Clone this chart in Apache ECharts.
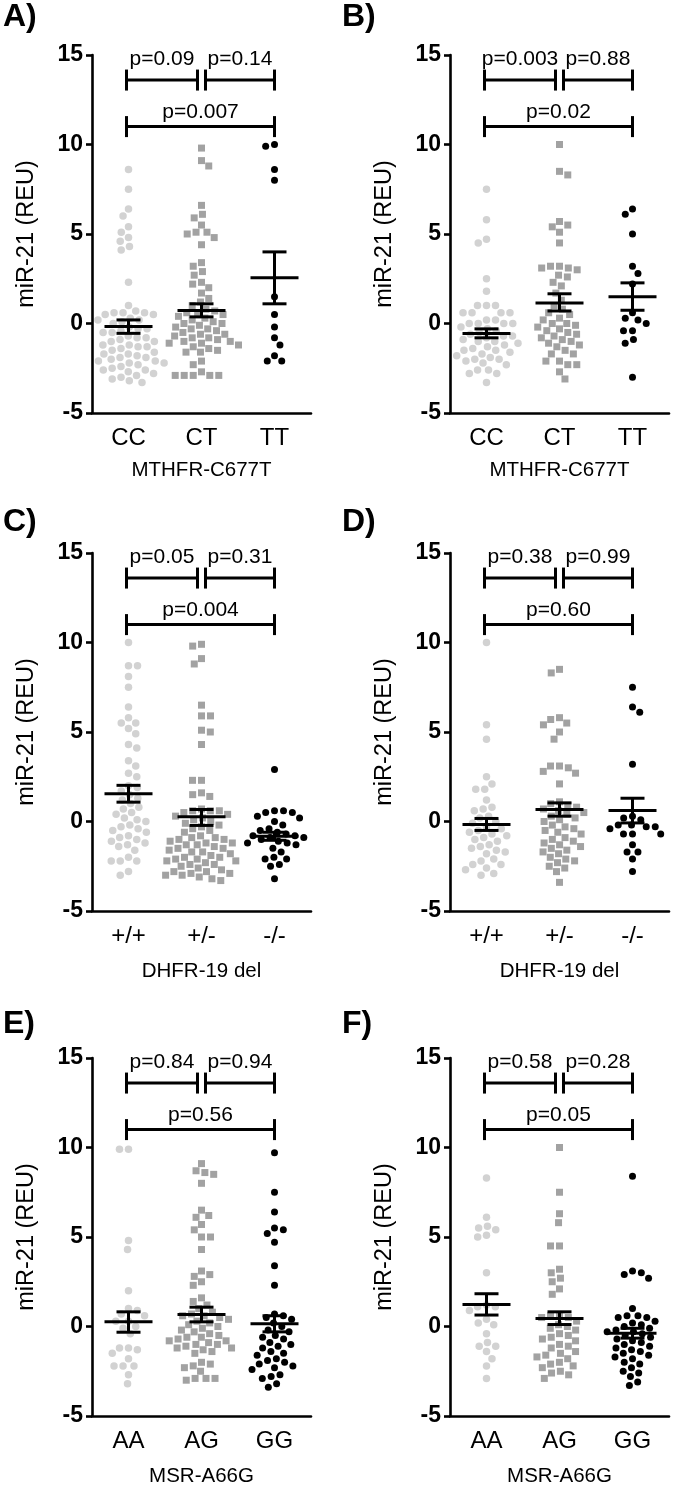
<!DOCTYPE html>
<html><head><meta charset="utf-8">
<script src="https://cdn.jsdelivr.net/npm/echarts@6/dist/echarts.min.js"></script>
<style>html,body{margin:0;padding:0;background:#fff}#c{width:674px;height:1488px}</style>
</head><body><div id="c"></div>
<script>
// ---------------- data ----------------
const yTitle = 'miR-21 (REU)';
const yMin = -5, yMax = 15, yStep = 5;
const panelLetters = ['A)', 'B)', 'C)', 'D)', 'E)', 'F)'];
const xTitles = ['MTHFR-C677T', 'MTHFR-C677T', 'DHFR-19 del', 'DHFR-19 del', 'MSR-A66G', 'MSR-A66G'];
const catsMTHFR = ['CC', 'CT', 'TT'];
const catsDHFR = ['+/+', '+/-', '-/-'];
const catsMSR = ['AA', 'AG', 'GG'];

// Panel A
const A_g1 = [8.6, 7.5, 6.4, 6.0, 5.4, 5.1, 4.8, 4.6, 4.3, 4.1, 2.3, 1.0, 0.7, 0.6, 0.6, 0.6, 0.5, 0.5, 0.3, 0.2, 0.2, 0.1, 0.0, -0.2, -0.3, -0.3, -0.4, -0.5, -0.5, -0.7, -0.8, -0.8, -0.9, -1.0, -1.0, -1.2, -1.2, -1.3, -1.3, -1.4, -1.5, -1.6, -1.7, -1.7, -1.8, -1.9, -1.9, -2.0, -2.1, -2.1, -2.2, -2.2, -2.3, -2.4, -2.5, -2.6, -2.6, -2.7, -2.8, -2.9, -3.0, -3.1, -3.2, -3.3];
const A_g2 = [9.8, 9.1, 8.8, 6.6, 6.1, 5.9, 5.5, 5.1, 5.1, 5.0, 4.8, 4.4, 3.4, 3.2, 2.9, 2.7, 2.3, 2.2, 2.0, 1.7, 1.4, 1.2, 1.0, 0.8, 0.7, 0.6, 0.6, 0.5, 0.4, 0.3, 0.2, 0.1, 0.0, 0.0, -0.1, -0.2, -0.3, -0.3, -0.4, -0.5, -0.6, -0.6, -0.7, -0.8, -0.8, -0.9, -1.0, -1.0, -1.1, -1.1, -1.2, -1.3, -1.4, -1.5, -1.6, -1.6, -2.1, -2.3, -2.7, -2.9, -2.9, -2.9, -2.9, -2.9];
const A_g3 = [10.0, 9.9, 8.6, 8.0, 1.5, 0.5, -0.2, -0.8, -1.2, -1.8, -2.1, -2.1];
const A_stats = [[-0.17, -0.55, 0.2], [0.73, 0.37, 1.1], [2.55, 1.1, 4.0]];
const A_p = ['p=0.09', 'p=0.14', 'p=0.007'];

// Panel B
const B_g1 = [7.5, 5.8, 4.7, 4.5, 2.5, 1.8, 1.0, 1.0, 1.0, 0.6, 0.6, 0.6, 0.6, 0.2, 0.2, 0.0, 0.0, 0.0, 0.0, -0.2, -0.3, -0.4, -0.5, -0.6, -0.7, -0.7, -0.8, -0.9, -1.0, -1.0, -1.1, -1.2, -1.3, -1.4, -1.5, -1.5, -1.6, -1.7, -1.8, -1.9, -2.0, -2.0, -2.1, -2.2, -2.3, -2.6, -2.6, -2.8, -2.8, -3.3];
const B_g2 = [10.0, 8.5, 8.3, 5.7, 5.5, 5.4, 5.1, 4.5, 3.2, 3.2, 3.1, 3.1, 3.0, 2.7, 2.6, 2.3, 2.1, 1.7, 1.3, 1.0, 0.8, 0.6, 0.5, 0.3, 0.2, 0.0, 0.0, -0.1, -0.2, -0.3, -0.4, -0.5, -0.6, -0.7, -0.8, -0.9, -1.0, -1.1, -1.2, -1.3, -1.5, -1.7, -1.7, -2.1, -2.1, -2.3, -2.3, -2.7, -3.1];
const B_g3 = [6.4, 6.1, 5.0, 3.2, 2.8, 2.2, 0.6, 0.3, 0.2, 0.0, -0.4, -0.4, -0.9, -1.1, -3.0];
const B_stats = [[-0.56, -0.8, -0.3], [1.15, 0.7, 1.66], [1.5, 0.74, 2.27]];
const B_p = ['p=0.003', 'p=0.88', 'p=0.02'];

// Panel C
const C_g1 = [10.0, 8.7, 8.7, 8.1, 7.5, 6.4, 5.8, 5.5, 5.5, 5.2, 4.9, 4.3, 4.1, 3.4, 3.1, 2.7, 2.5, 2.0, 1.9, 1.7, 1.5, 1.3, 1.2, 1.0, 0.8, 0.7, 0.5, 0.4, 0.2, 0.1, 0.0, -0.2, -0.3, -0.4, -0.5, -0.6, -0.8, -0.9, -1.0, -1.1, -1.2, -1.3, -1.4, -1.6, -2.0, -2.2, -2.2, -2.2, -2.8, -3.0];
const C_g2 = [9.9, 9.8, 9.1, 8.8, 6.5, 5.9, 5.9, 5.1, 5.0, 4.3, 2.3, 2.3, 1.6, 1.5, 1.4, 0.7, 0.6, 0.6, 0.6, 0.5, 0.4, 0.3, 0.2, 0.1, 0.0, -0.1, -0.2, -0.3, -0.4, -0.5, -0.6, -0.8, -0.9, -0.9, -1.0, -1.0, -1.1, -1.2, -1.2, -1.3, -1.3, -1.4, -1.5, -1.5, -1.6, -1.7, -1.7, -1.8, -1.9, -2.0, -2.0, -2.1, -2.1, -2.2, -2.2, -2.3, -2.4, -2.4, -2.5, -2.6, -2.7, -2.8, -2.8, -2.9, -2.9, -3.0, -3.0, -3.1, -3.2, -3.3];
const C_g3 = [2.9, 0.6, 0.6, 0.5, 0.5, 0.3, 0.2, 0.0, -0.2, -0.4, -0.5, -0.6, -0.7, -0.8, -0.8, -0.9, -0.9, -1.0, -1.1, -1.2, -1.2, -1.3, -1.5, -1.7, -2.0, -2.1, -2.1, -2.4, -2.5, -3.2];
const C_stats = [[1.55, 1.08, 2.02], [0.26, -0.22, 0.67], [-0.82, -1.05, -0.6]];
const C_p = ['p=0.05', 'p=0.31', 'p=0.004'];

// Panel D
const D_g1 = [10.0, 5.4, 4.6, 2.5, 2.1, 1.8, 1.8, 1.2, 0.8, 0.7, 0.6, 0.3, 0.2, 0.0, -0.1, -0.3, -0.4, -0.5, -0.6, -0.7, -0.8, -0.9, -1.0, -1.1, -1.3, -1.4, -1.5, -1.6, -1.7, -1.8, -2.1, -2.2, -2.4, -2.4, -2.6, -2.7, -2.9, -3.0];
const D_g2 = [8.5, 8.3, 5.8, 5.7, 5.5, 5.4, 5.0, 4.6, 3.1, 3.1, 3.0, 2.8, 2.7, 2.1, 1.1, 1.0, 0.9, 0.8, 0.7, 0.6, 0.5, 0.4, 0.3, 0.2, 0.1, 0.0, -0.2, -0.3, -0.4, -0.5, -0.6, -0.7, -0.9, -1.0, -1.1, -1.2, -1.3, -1.4, -1.5, -1.6, -1.7, -1.8, -2.0, -2.1, -2.2, -2.3, -2.5, -2.6, -2.8, -3.4];
const D_g3 = [7.5, 6.4, 6.1, 3.2, 0.3, 0.2, 0.1, -0.2, -0.2, -0.3, -0.3, -0.4, -0.7, -0.7, -0.7, -1.3, -1.7, -1.7, -2.1, -2.8];
const D_stats = [[-0.17, -0.5, 0.17], [0.67, 0.3, 1.04], [0.61, -0.08, 1.3]];
const D_p = ['p=0.38', 'p=0.99', 'p=0.60'];

// Panel E
const E_g1 = [9.9, 9.9, 4.8, 4.3, 2.0, 1.0, 0.9, 0.7, 0.6, 0.3, 0.3, 0.0, -0.1, -0.4, -1.2, -1.2, -1.3, -1.5, -1.8, -2.2, -2.2, -2.2, -2.7, -3.2];
const E_g2 = [9.1, 8.7, 8.6, 8.5, 8.0, 6.5, 6.2, 6.1, 5.7, 5.4, 5.0, 5.0, 4.3, 3.1, 2.9, 2.8, 2.5, 2.3, 1.6, 1.4, 1.2, 1.0, 0.8, 0.7, 0.6, 0.6, 0.5, 0.4, 0.3, 0.2, 0.1, 0.0, -0.1, -0.2, -0.3, -0.4, -0.5, -0.6, -0.6, -0.7, -0.8, -0.8, -0.9, -1.0, -1.0, -1.1, -1.2, -1.2, -1.3, -1.4, -1.5, -2.0, -2.1, -2.2, -2.3, -2.5, -2.9, -2.9, -2.9, -3.0];
const E_g3 = [9.7, 7.5, 6.4, 5.5, 5.4, 5.2, 4.7, 3.4, 2.3, 0.7, 0.6, 0.5, 0.4, 0.2, 0.0, -0.2, -0.3, -0.5, -0.6, -0.7, -0.9, -1.0, -1.1, -1.2, -1.4, -1.5, -1.6, -1.8, -1.9, -2.0, -2.1, -2.2, -2.3, -2.4, -2.7, -2.8, -2.9, -3.2, -3.4];
const E_stats = [[0.26, -0.32, 0.82], [0.67, 0.26, 1.08], [0.15, -0.3, 0.6]];
const E_p = ['p=0.84', 'p=0.94', 'p=0.56'];

// Panel F
const F_g1 = [8.3, 6.1, 5.6, 5.5, 5.4, 5.1, 5.0, 3.0, 1.2, 1.1, 1.1, 0.9, 0.4, 0.2, 0.1, -0.4, -0.9, -1.1, -1.1, -1.4, -1.8, -2.2, -2.9];
const F_g2 = [10.0, 7.5, 6.3, 5.8, 4.5, 4.5, 3.2, 3.0, 2.7, 2.5, 2.1, 1.8, 0.6, 0.6, 0.5, 0.5, 0.3, 0.1, 0.0, -0.1, -0.2, -0.4, -0.5, -0.6, -0.7, -0.8, -1.0, -1.1, -1.2, -1.4, -1.5, -1.6, -1.7, -1.8, -2.0, -2.1, -2.2, -2.3, -2.5, -2.6, -2.7, -2.9];
const F_g3 = [8.4, 3.1, 3.0, 2.9, 2.7, 1.0, 0.6, 0.6, 0.5, 0.5, 0.3, 0.2, 0.1, 0.0, -0.1, -0.2, -0.3, -0.3, -0.4, -0.5, -0.6, -0.7, -0.8, -0.9, -1.0, -1.1, -1.2, -1.3, -1.4, -1.5, -1.6, -1.7, -1.8, -2.0, -2.1, -2.3, -2.5, -2.6, -2.8, -3.1, -3.3];
const F_stats = [[1.23, 0.64, 1.83], [0.45, 0.11, 0.82], [-0.38, -0.65, -0.1]];
const F_p = ['p=0.58', 'p=0.28', 'p=0.05'];

// bracket heights (y value of line, y value of text)
const bracketY = [13.6, 13.6, 11.0];
const bracketTextY = [14.75, 14.75, 11.8];

// ---------------- layout / style ----------------
const FONT = '"Liberation Sans", Arial, Helvetica, sans-serif';
const colLeft = [92, 450];
const rowTop = [55, 553, 1058];
const gridW = 219, gridH = 358;
const colors = ['#d2d2d2', '#a2a2a2', '#000000'];
const symbols = ['circle', 'rect', 'circle'];
const symSizes = [7.5, 7, 7];
const AX = 2.6;

const panels = [
  {cats: catsMTHFR, groups: [A_g1, A_g2, A_g3], stats: A_stats, p: A_p},
  {cats: catsMTHFR, groups: [B_g1, B_g2, B_g3], stats: B_stats, p: B_p},
  {cats: catsDHFR, groups: [C_g1, C_g2, C_g3], stats: C_stats, p: C_p},
  {cats: catsDHFR, groups: [D_g1, D_g2, D_g3], stats: D_stats, p: D_p},
  {cats: catsMSR, groups: [E_g1, E_g2, E_g3], stats: E_stats, p: E_p},
  {cats: catsMSR, groups: [F_g1, F_g2, F_g3], stats: F_stats, p: F_p}
];

// beeswarm horizontal offsets (layout only; y values untouched)
function swarm(vals, gi) {
  const pyu = gridH / (yMax - yMin), pxu = gridW / 3, D = 9;
  const order = vals.map((v, i) => ({v, i})).sort((a, b) => b.v - a.v);
  const placed = [];
  const out = [];
  let flip = 1;
  for (const p of order) {
    const y = p.v * pyu;
    const cands = [0];
    for (const q of placed) {
      const dy = Math.abs(q.y - y);
      if (dy < D) {
        const dx = Math.sqrt(D * D - dy * dy) + 0.01;
        cands.push(q.x + dx, q.x - dx);
      }
    }
    cands.sort((a, b) => (Math.abs(a) - Math.abs(b)) || (flip * (b - a)));
    let chosen = 0;
    for (const c of cands) {
      if (placed.every(q => (q.x - c) * (q.x - c) + (q.y - y) * (q.y - y) >= D * D - 0.01)) { chosen = c; break; }
    }
    flip = -flip;
    placed.push({x: chosen, y});
    out.push([gi + 0.5 + chosen / pxu, p.v]);
  }
  return out;
}

const grids = [], xAxes = [], yAxes = [], series = [], graphics = [];
panels.forEach((pn, k) => {
  const col = k % 2, row = Math.floor(k / 2);
  const left = colLeft[col], top = rowTop[row];
  grids.push({left, top, width: gridW, height: gridH, containLabel: false});
  xAxes.push({
    type: 'category', gridIndex: k, data: pn.cats, boundaryGap: true, position: 'bottom',
    axisLine: {onZero: false, lineStyle: {color: '#000', width: AX}},
    axisTick: {alignWithLabel: true, length: 6, lineStyle: {color: '#000', width: AX}},
    axisLabel: {color: '#000', fontSize: 24, fontFamily: FONT, margin: 13},
    splitLine: {show: false},
    name: xTitles[k], nameLocation: 'middle', nameGap: row === 0 ? 47 : 50,
    nameTextStyle: {color: '#000', fontSize: 20.5, fontFamily: FONT}
  });
  xAxes.push({type: 'value', gridIndex: k, min: 0, max: 3, show: false});
  yAxes.push({
    type: 'value', gridIndex: k, min: yMin, max: yMax, interval: yStep, position: 'left',
    axisLine: {show: true, onZero: false, lineStyle: {color: '#000', width: AX}},
    axisTick: {show: true, length: 6, lineStyle: {color: '#000', width: AX}},
    axisLabel: {color: '#000', fontSize: 23, fontWeight: 'bold', fontFamily: FONT, margin: 9},
    splitLine: {show: false},
    name: yTitle, nameLocation: 'middle', nameGap: 53,
    nameTextStyle: {color: '#000', fontSize: 23.5, fontFamily: FONT}
  });
  pn.groups.forEach((g, gi) => {
    series.push({
      type: 'scatter', xAxisIndex: 2 * k + 1, yAxisIndex: k,
      data: swarm(g, gi), symbol: symbols[gi], symbolSize: symSizes[gi],
      itemStyle: {color: colors[gi], opacity: 1}, z: 2, silent: true
    });
  });
  // mean +/- SEM
  series.push({
    type: 'custom', xAxisIndex: 2 * k + 1, yAxisIndex: k, z: 5, silent: true,
    data: pn.stats.map((s, gi) => [gi + 0.5, s[0], s[1], s[2]]),
    renderItem: (params, api) => {
      const c = api.coord([api.value(0), api.value(1)]);
      const lo = api.coord([api.value(0), api.value(2)]);
      const hi = api.coord([api.value(0), api.value(3)]);
      const st = {stroke: '#000', lineWidth: 3};
      return {type: 'group', children: [
        {type: 'line', shape: {x1: c[0] - 24, y1: c[1], x2: c[0] + 24, y2: c[1]}, style: st},
        {type: 'line', shape: {x1: c[0], y1: lo[1], x2: c[0], y2: hi[1]}, style: st},
        {type: 'line', shape: {x1: c[0] - 12, y1: lo[1], x2: c[0] + 12, y2: lo[1]}, style: st},
        {type: 'line', shape: {x1: c[0] - 12, y1: hi[1], x2: c[0] + 12, y2: hi[1]}, style: st}
      ]};
    }
  });
  // significance brackets
  const pairs = [[0, 1], [1, 2], [0, 2]];
  const labels = pn.p;
  series.push({
    type: 'custom', xAxisIndex: 2 * k + 1, yAxisIndex: k, z: 5, silent: true,
    data: pairs.map((pr, i) => [pr[0] + 0.5, pr[1] + 0.5, bracketY[i], bracketTextY[i]]),
    renderItem: (params, api) => {
      const i = params.dataIndex;
      const a = api.coord([api.value(0), api.value(2)]);
      const b = api.coord([api.value(1), api.value(2)]);
      const t = api.coord([api.value(0), api.value(3)]);
      let x1 = a[0] - 2, x2 = b[0];
      if (i === 0) x2 -= 4;
      if (i === 1) x1 += 6;
      const y = a[1];
      const st = {stroke: '#000', lineWidth: 3};
      return {type: 'group', children: [
        {type: 'line', shape: {x1, y1: y, x2, y2: y}, style: st},
        {type: 'line', shape: {x1, y1: y - 10.5, x2: x1, y2: y + 10.5}, style: st},
        {type: 'line', shape: {x1: x2, y1: y - 10.5, x2, y2: y + 10.5}, style: st},
        {type: 'text', x: (x1 + x2) / 2, y: t[1],
          style: {text: labels[i], fill: '#000', font: '21px ' + FONT, align: 'center', verticalAlign: 'middle'}}
      ]};
    }
  });
  graphics.push({
    type: 'text', left: col === 0 ? 3 : 342, top: [1, 506, 1008][row],
    style: {text: panelLetters[k], fill: '#000', font: 'bold 32px ' + FONT}
  });
});

const chart = echarts.init(document.getElementById('c'), null, {renderer: 'canvas'});
chart.setOption({
  backgroundColor: '#fff', animation: false,
  grid: grids, xAxis: xAxes, yAxis: yAxes, series, graphic: graphics
});
</script></body></html>
